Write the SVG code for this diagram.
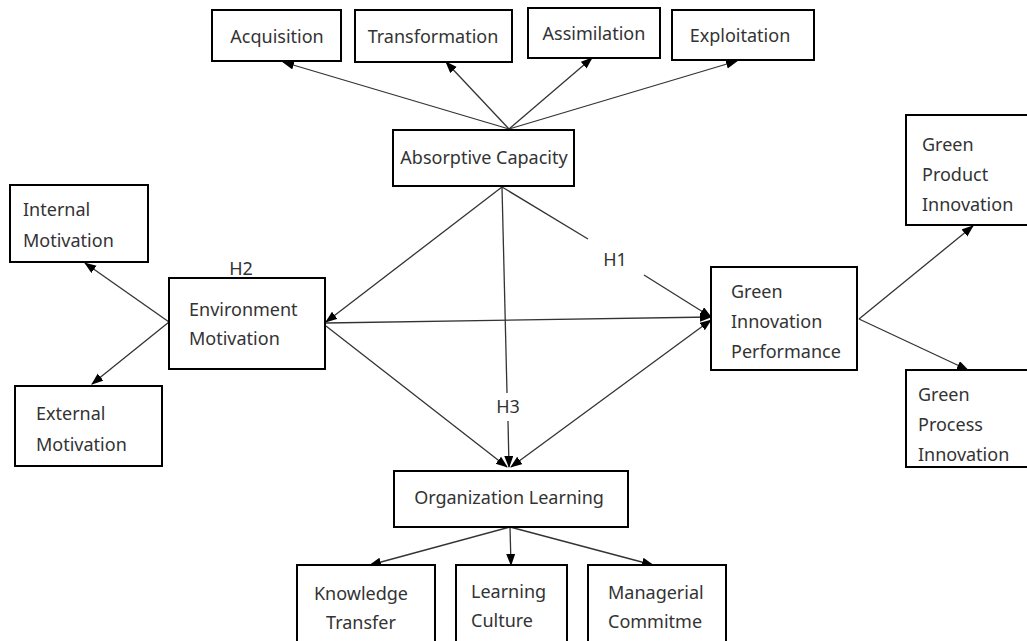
<svg xmlns="http://www.w3.org/2000/svg" width="1027" height="641" viewBox="0 0 1027 641">
  <style>
    .box { fill: #ffffff; stroke: #000000; stroke-width: 2; }
    .lbl { font-family: "Noto Sans", "Open Sans", "Liberation Sans", sans-serif; font-size: 18px; fill: #333333; }
    .mid { text-anchor: middle; }
    .edge { fill: none; stroke: #333333; stroke-width: 1.3; }
    .arr { marker-end: url(#head); }
  </style>
  <defs>
    <marker id="head" markerUnits="userSpaceOnUse" markerWidth="12" markerHeight="10" refX="11" refY="4.5" orient="auto-start-reverse">
      <path d="M0,0 L12,4.5 L0,9 z" fill="#000000"/>
    </marker>
  </defs>

  <rect width="1027" height="641" fill="#ffffff"/>

  <!-- connectors -->
  <g id="connectors">
    <!-- absorptive capacity dimensions -->
    <line class="edge arr" x1="509" y1="129" x2="283" y2="62"/>
    <line class="edge arr" x1="509" y1="129" x2="446" y2="62"/>
    <line class="edge arr" x1="509" y1="129" x2="592" y2="58"/>
    <line class="edge arr" x1="509" y1="129" x2="737" y2="61"/>
    <!-- absorptive capacity paths -->
    <line class="edge arr" x1="502" y1="187" x2="326" y2="322"/>
    <line class="edge" x1="502" y1="187" x2="507" y2="393"/>
    <line class="edge arr" x1="508" y1="421" x2="509" y2="467"/>
    <line class="edge" x1="502" y1="187" x2="588" y2="239"/>
    <line class="edge arr" x1="644" y1="275" x2="711" y2="317"/>
    <!-- environment motivation paths -->
    <line class="edge arr" x1="326" y1="323" x2="711" y2="317"/>
    <line class="edge arr" x1="326" y1="326" x2="507" y2="467"/>
    <line class="edge arr" x1="169" y1="322" x2="85" y2="263"/>
    <line class="edge arr" x1="169" y1="322" x2="92" y2="384"/>
    <!-- organization learning <-> green innovation performance -->
    <line class="edge" x1="511" y1="467" x2="711" y2="320" marker-start="url(#head)" marker-end="url(#head)"/>
    <!-- green innovation performance dimensions -->
    <line class="edge arr" x1="859" y1="319" x2="973" y2="226"/>
    <line class="edge arr" x1="859" y1="319" x2="968" y2="370"/>
    <!-- organization learning dimensions -->
    <line class="edge arr" x1="510" y1="527" x2="370" y2="565"/>
    <line class="edge arr" x1="510" y1="527" x2="511" y2="565"/>
    <line class="edge arr" x1="510" y1="527" x2="653" y2="565"/>
  </g>

  <!-- hypothesis labels -->
  <text class="lbl mid" x="241" y="275">H2</text>
  <text class="lbl mid" x="615" y="266">H1</text>
  <text class="lbl mid" x="508" y="413">H3</text>

  <g id="acquisition">
    <rect class="box" x="212" y="10" width="129" height="51"/>
    <text class="lbl mid" x="277" y="43">Acquisition</text>
  </g>
  <g id="transformation">
    <rect class="box" x="355" y="10" width="157" height="52"/>
    <text class="lbl mid" x="433" y="43">Transformation</text>
  </g>
  <g id="assimilation">
    <rect class="box" x="528" y="8" width="132" height="50"/>
    <text class="lbl mid" x="594" y="40">Assimilation</text>
  </g>
  <g id="exploitation">
    <rect class="box" x="672" y="10" width="142" height="50"/>
    <text class="lbl mid" x="740" y="42">Exploitation</text>
  </g>
  <g id="absorptive-capacity">
    <rect class="box" x="393" y="130" width="181" height="56"/>
    <text class="lbl mid" x="484" y="164">Absorptive Capacity</text>
  </g>
  <g id="internal-motivation">
    <rect class="box" x="10" y="185" width="138" height="77"/>
    <text class="lbl" x="23" y="216">Internal</text>
    <text class="lbl" x="23" y="247">Motivation</text>
  </g>
  <g id="environment-motivation">
    <rect class="box" x="169" y="278" width="156" height="91"/>
    <text class="lbl" x="189" y="316">Environment</text>
    <text class="lbl" x="189" y="345">Motivation</text>
  </g>
  <g id="external-motivation">
    <rect class="box" x="15" y="386" width="147" height="80"/>
    <text class="lbl" x="36" y="420">External</text>
    <text class="lbl" x="36" y="451">Motivation</text>
  </g>
  <g id="green-innovation-performance">
    <rect class="box" x="711" y="267" width="146" height="103"/>
    <text class="lbl" x="731" y="298">Green</text>
    <text class="lbl" x="731" y="328">Innovation</text>
    <text class="lbl" x="731" y="358">Performance</text>
  </g>
  <g id="green-product-innovation">
    <rect class="box" x="906" y="115" width="125" height="110"/>
    <text class="lbl" x="922" y="151">Green</text>
    <text class="lbl" x="922" y="181">Product</text>
    <text class="lbl" x="922" y="211">Innovation</text>
  </g>
  <g id="green-process-innovation">
    <rect class="box" x="906" y="370" width="125" height="97"/>
    <text class="lbl" x="918" y="401">Green</text>
    <text class="lbl" x="918" y="431">Process</text>
    <text class="lbl" x="918" y="461">Innovation</text>
  </g>
  <g id="organization-learning">
    <rect class="box" x="394" y="471" width="234" height="56"/>
    <text class="lbl mid" x="509" y="504">Organization Learning</text>
  </g>
  <g id="knowledge-transfer">
    <rect class="box" x="297" y="565" width="138" height="80"/>
    <text class="lbl mid" x="361" y="600">Knowledge</text>
    <text class="lbl mid" x="361" y="629">Transfer</text>
  </g>
  <g id="learning-culture">
    <rect class="box" x="456" y="565" width="111" height="80"/>
    <text class="lbl" x="471" y="598">Learning</text>
    <text class="lbl" x="471" y="627">Culture</text>
  </g>
  <g id="managerial-commitment">
    <rect class="box" x="588" y="565" width="138" height="80"/>
    <text class="lbl" x="608" y="599">Managerial</text>
    <text class="lbl" x="608" y="628">Commitme</text>
  </g>
</svg>
